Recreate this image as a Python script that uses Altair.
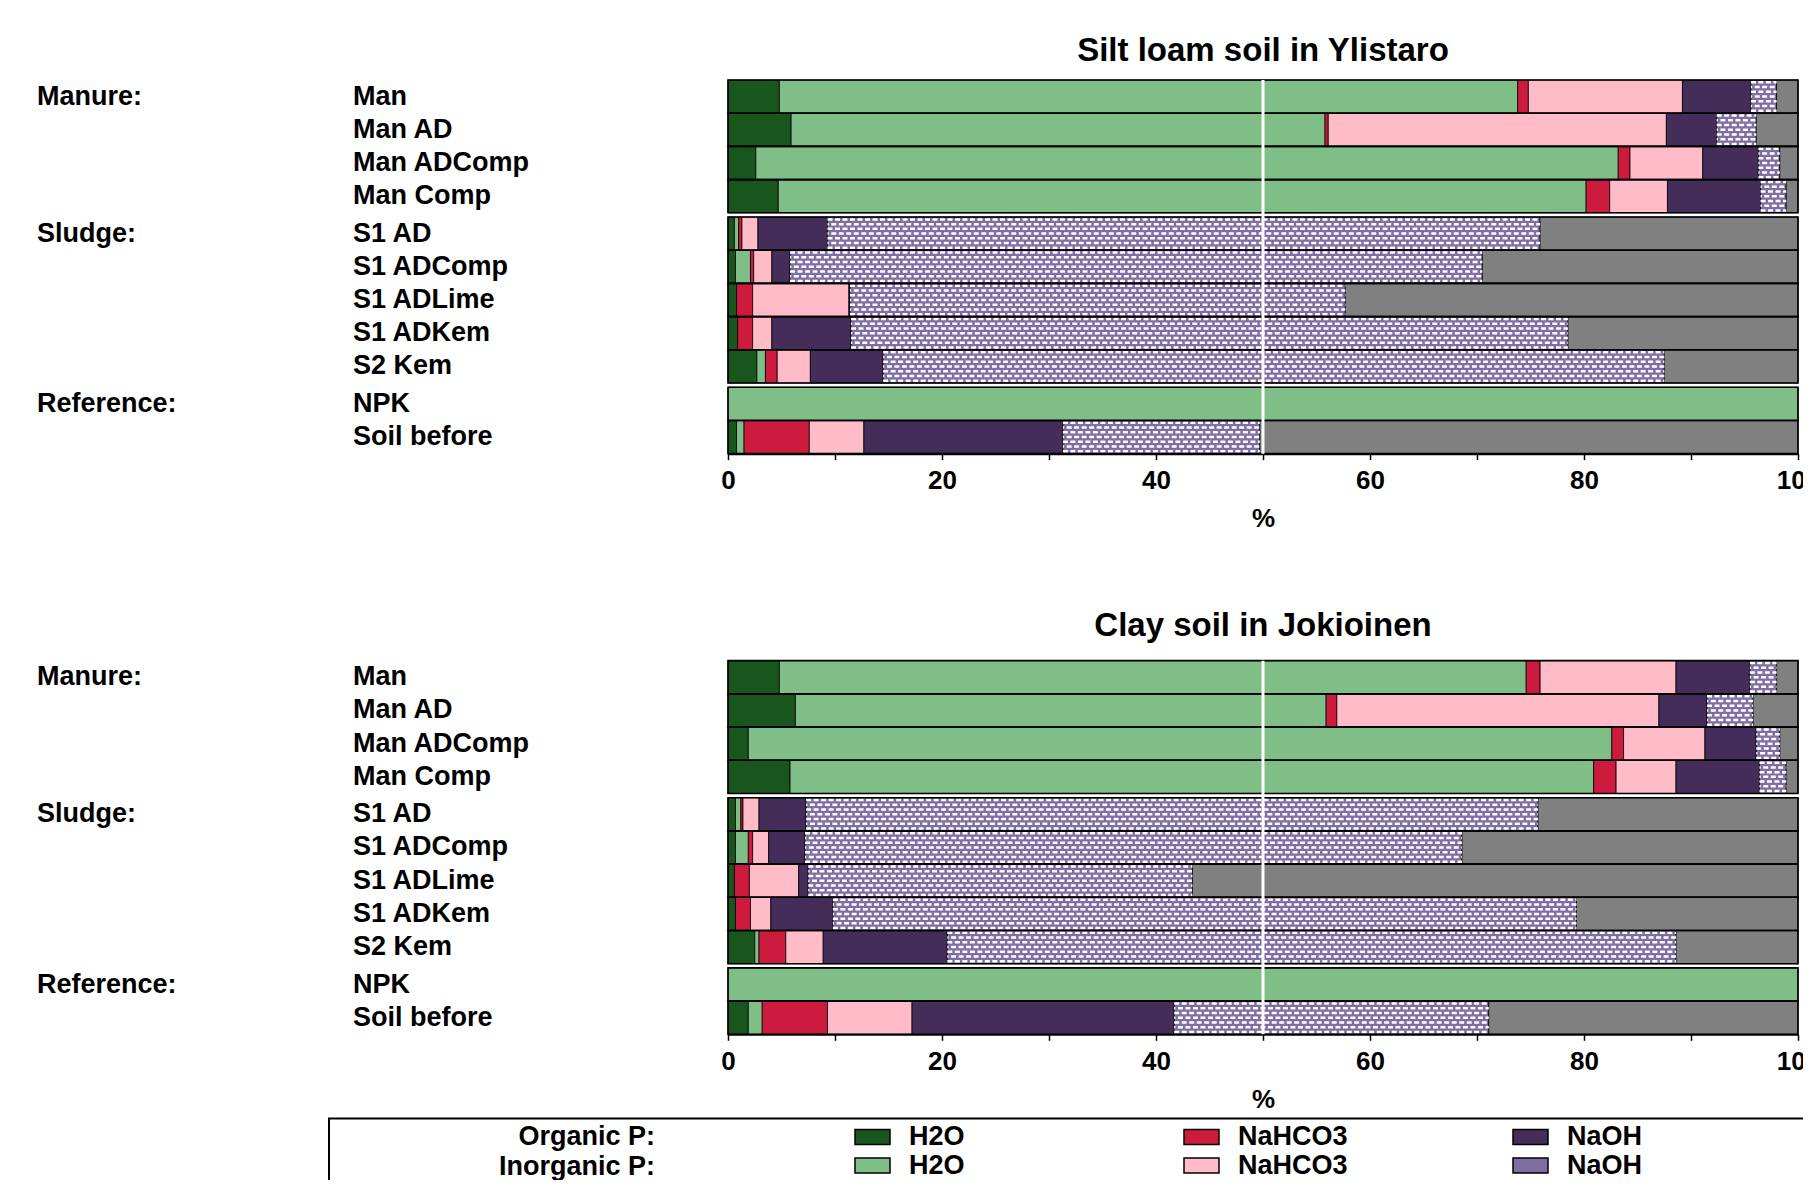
import altair as alt
import pandas as pd

# ---------------- data ----------------
samples = ["Man", "Man AD", "Man ADComp", "Man Comp",
           "S1 AD", "S1 ADComp", "S1 ADLime", "S1 ADKem", "S2 Kem",
           "NPK", "Soil before"]
groups = ["Manure:", "Sludge:", "Reference:"]
group_sizes = [4, 5, 2]

# stacking order of the fractions (left to right)
fractions = ["Organic H2O", "Inorganic H2O", "Organic NaHCO3", "Inorganic NaHCO3",
             "Organic NaOH", "Inorganic NaOH", "HCl"]
legend_order = ["Organic H2O", "Organic NaHCO3", "Organic NaOH",
                "Inorganic H2O", "Inorganic NaHCO3", "Inorganic NaOH", "HCl"]
legend_colors = ["#19561d", "#cc1b3d", "#452d59",
                 "#7fbf87", "#ffbbc7", "#7e6ea3", "#808080"]
legend_rows = ["Organic P:", "Inorganic P:"]
panel_titles = ["Silt loam soil in Ylistaro", "Clay soil in Jokioinen"]

# % per sample, in the order of `fractions`
ylistaro = [
    [4.8, 69.0, 1.0, 14.4, 6.4, 2.4, 2.0],
    [5.9, 49.9, 0.3, 31.6, 4.7, 3.7, 3.9],
    [2.6, 80.6, 1.1, 6.8, 5.2, 2.0, 1.7],
    [4.7, 75.5, 2.2, 5.4, 8.7, 2.4, 1.1],
    [0.6, 0.4, 0.3, 1.5, 6.5, 66.6, 24.1],
    [0.7, 1.4, 0.3, 1.7, 1.7, 64.7, 29.5],
    [0.8, 0.0, 1.5, 9.0, 0.1, 46.3, 42.3],
    [0.9, 0.0, 1.4, 1.8, 7.4, 67.0, 21.5],
    [2.7, 0.8, 1.1, 3.1, 6.8, 73.0, 12.5],
    [0.0, 100.0, 0.0, 0.0, 0.0, 0.0, 0.0],
    [0.8, 0.7, 6.1, 5.1, 18.6, 18.4, 50.3],
]
jokioinen = [
    [4.8, 69.8, 1.3, 12.7, 6.9, 2.5, 2.0],
    [6.3, 49.6, 1.0, 30.1, 4.5, 4.3, 4.2],
    [1.9, 80.7, 1.1, 7.6, 4.8, 2.2, 1.7],
    [5.8, 75.1, 2.1, 5.6, 7.8, 2.5, 1.1],
    [0.7, 0.5, 0.2, 1.5, 4.4, 68.4, 24.3],
    [0.7, 1.2, 0.4, 1.5, 3.4, 61.4, 31.4],
    [0.6, 0.0, 1.4, 4.6, 0.9, 35.9, 56.6],
    [0.7, 0.0, 1.4, 1.9, 5.8, 69.5, 20.7],
    [2.5, 0.4, 2.5, 3.5, 11.6, 68.1, 11.4],
    [0.0, 100.0, 0.0, 0.0, 0.0, 0.0, 0.0],
    [1.9, 1.3, 6.1, 7.9, 24.5, 29.4, 28.9],
]

# ---------------- tables built from the arrays ----------------
row_group = [g for g, n in enumerate(group_sizes) for _ in range(n)]
records, label_records = [], []
for p, table in enumerate([ylistaro, jokioinen]):
    for r, (s, vals) in enumerate(zip(samples, table)):
        gi = row_group[r]
        first = r == 0 or row_group[r - 1] != gi
        label_records.append(dict(panel=p, row=r, gi=gi, sample=s,
                                  group=groups[gi] if first else ""))
        for k, (f, v) in enumerate(zip(fractions, vals)):
            records.append(dict(panel=p, row=r, gi=gi, sample=s,
                                fraction=f, order=k, value=v))
df = pd.DataFrame(records)
df_labels = pd.DataFrame(label_records)

# ---------------- layout constants ----------------
FONT = "Liberation Sans"
FS = 27             # label font size
U = 33.2            # px per bar row
GAP = 0.127         # extra space between groups (row units)
PANEL_OFF = 17.49   # offset of second panel (row units)
SPAN = len(samples) + GAP * (len(groups) - 1)
D = PANEL_OFF + SPAN
W = 1070
H = D * U

TOP_EXPR = f"datum.panel * {PANEL_OFF} + datum.row + {GAP} * datum.gi"

XS = alt.Scale(domain=[0, 100], nice=False, zero=False)
YS = alt.Scale(domain=[0, D], reverse=True, nice=False, zero=False)

axis_common = dict(
    values=list(range(0, 101, 10)),
    labelExpr="datum.value % 20 === 0 ? datum.label : ''",
    title="%", orient="bottom", grid=False,
    domainColor="black", domainWidth=2,
    tickColor="black", tickWidth=1.5, tickSize=6,
    labelPadding=8, labelFont=FONT, labelFontSize=26, labelFontWeight="bold",
    labelColor="black", labelFlush=False, labelOverlap=False,
    titleFont=FONT, titleFontSize=26, titleFontWeight="bold", titleColor="black",
    titlePadding=12,
)
AX_BOTTOM = alt.Axis(offset=0, **axis_common)
AX_TOP = alt.Axis(offset=-PANEL_OFF * U, **axis_common)

LEG_Y = 1043          # top of first legend row, relative to plot origin
LEG_ROW = 29.5        # legend row pitch
legend = alt.Legend(
    orient="none", legendX=130.5, legendY=LEG_Y, direction="horizontal",
    columns=3, gridAlign="all", columnPadding=161, rowPadding=LEG_ROW - 28, padding=0,
    title=None,
    symbolType="M-1.346,-0.577H1.346V0.577H-1.346Z", symbolSize=676,
    symbolStrokeColor="black", symbolStrokeWidth=1.5, symbolOpacity=1,
    labelFont=FONT, labelFontSize=FS, labelFontWeight="bold", labelColor="black",
    labelOffset=22.5, labelLimit=0,
    labelExpr="indexof(datum.label, ' ') >= 0 ? substring(datum.label, indexof(datum.label, ' ') + 1) : datum.label",
)

base = (
    alt.Chart(df)
    .transform_stack(stack="value", groupby=["panel", "row"], as_=["x0", "x1"],
                     sort=[alt.SortField("order", order="ascending")])
    .transform_calculate(top=TOP_EXPR)
    .transform_calculate(bot="datum.top + 1")
)

bars = (
    base.transform_filter("datum.value > 0")
    .mark_rect(stroke="black", strokeWidth=0.8)
    .encode(
        x=alt.X("x0:Q", scale=XS, axis=AX_BOTTOM),
        x2="x1:Q",
        y=alt.Y("top:Q", scale=YS, axis=None),
        y2="bot:Q",
        color=alt.Color("fraction:N",
                        scale=alt.Scale(domain=legend_order, range=legend_colors),
                        legend=legend),
    )
)

# white lattice over the inorganic NaOH fraction (imitates the cross-hatch fill)
NL = 7
hatch = (
    base.transform_filter("datum.fraction === 'Inorganic NaOH' && datum.value > 0")
    .transform_calculate(k=f"sequence(0, {NL})")
    .transform_flatten(["k"])
    .transform_calculate(yl=f"datum.top + (datum.k + 0.5) / {NL}", odd="datum.k % 2")
)
hatch_layers = []
for parity, off in [(0, 0), (1, 3.75)]:
    hatch_layers.append(
        hatch.transform_filter(f"datum.odd == {parity}")
        .mark_rule(color="white", strokeWidth=2.5, strokeDash=[5, 2.5],
                   strokeDashOffset=off)
        .encode(
            x=alt.X("x0:Q", scale=XS, axis=AX_BOTTOM),
            x2="x1:Q",
            y=alt.Y("yl:Q", scale=YS, axis=None),
        )
    )

outline = (
    base.transform_aggregate(x0="min(x0)", x1="max(x1)", top="min(top)",
                             groupby=["panel", "row"])
    .transform_calculate(bot="datum.top + 1")
    .mark_rect(filled=False, stroke="black", strokeWidth=1.6)
    .encode(
        x=alt.X("x0:Q", scale=XS, axis=AX_BOTTOM),
        x2="x1:Q",
        y=alt.Y("top:Q", scale=YS, axis=None),
        y2="bot:Q",
    )
)

mid_line = (
    base.transform_aggregate(top="min(top)", bot="max(bot)", groupby=["panel"])
    .mark_rule(color="white", strokeWidth=3)
    .encode(
        x=alt.XDatum(50, scale=XS, axis=AX_BOTTOM),
        y=alt.Y("top:Q", scale=YS, axis=None),
        y2="bot:Q",
    )
)

labels_base = (
    alt.Chart(df_labels)
    .transform_calculate(top=TOP_EXPR)
    .transform_calculate(mid="datum.top + 0.5")
)
row_labels = labels_base.mark_text(
    align="left", baseline="middle", font=FONT, fontSize=FS, fontWeight="bold", color="black"
).encode(x=alt.value(-375), y=alt.Y("mid:Q", scale=YS, axis=None), text="sample:N")

group_labels = labels_base.transform_filter("datum.group != ''").mark_text(
    align="left", baseline="middle", font=FONT, fontSize=FS, fontWeight="bold", color="black"
).encode(x=alt.value(-691), y=alt.Y("mid:Q", scale=YS, axis=None), text="group:N")

title_layers = []
for t, ypix in zip(panel_titles, [-19.3, 555.7]):
    title_layers.append(
        alt.Chart(pd.DataFrame({"t": [t]}))
        .mark_text(align="center", baseline="alphabetic", font=FONT, fontSize=33,
                   fontWeight="bold", color="black")
        .encode(x=alt.value(W / 2), y=alt.value(ypix), text="t:N")
    )

legend_head_layers = []
for i, t in enumerate(legend_rows):
    legend_head_layers.append(
        alt.Chart(pd.DataFrame({"t": [t]}))
        .mark_text(align="right", baseline="middle", font=FONT, fontSize=FS,
                   fontWeight="bold", color="black")
        .encode(x=alt.value(-73), y=alt.value(LEG_Y + 14 + i * LEG_ROW), text="t:N")
    )

legend_frame = (
    alt.Chart(pd.DataFrame({"t": ["frame"]}))
    .mark_rect(filled=False, stroke="black", strokeWidth=2)
    .encode(x=alt.value(-399), x2=alt.value(1400),
            y=alt.value(LEG_Y - 4.5), y2=alt.value(1500))
)

main = alt.layer(bars, *hatch_layers, outline, mid_line, row_labels, group_labels,
                 *title_layers, *legend_head_layers, legend_frame)

top_axis = (
    alt.Chart(pd.DataFrame({"v": [0, 100]}))
    .mark_point(opacity=0)
    .encode(x=alt.X("v:Q", scale=XS, axis=AX_TOP))
)

TOTAL_H = 1172
chart = (
    alt.layer(main, top_axis)
    .resolve_scale(x="independent")
    .properties(
        width=W, height=H,
        autosize=alt.AutoSizeParams(type="none"),
        padding={"left": 720, "top": 72, "right": 5, "bottom": TOTAL_H - 72 - H},
        background="white",
    )
    .configure_view(stroke="transparent")
)

chart.save("out.html", embed_options={"renderer": "svg", "actions": False})
